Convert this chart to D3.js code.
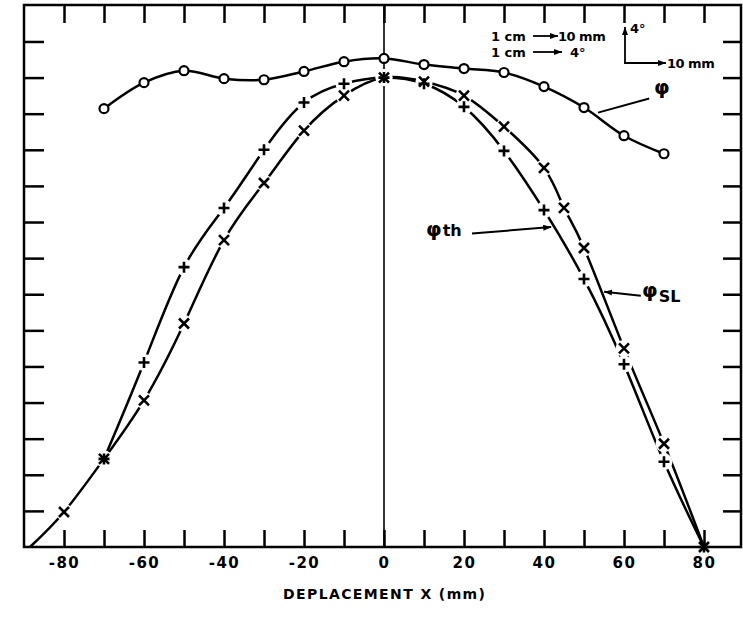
<!DOCTYPE html>
<html>
<head>
<meta charset="utf-8">
<script src="https://cdn.jsdelivr.net/npm/d3@7"></script>
<style>
  body { margin: 0; background: #fff; }
  svg { display: block; }
</style>
</head>
<body>
<div id="chart"></div>
<script>
// DATA
// ================================================================================== //

// axis ticks (x in mm, y in tick units: no labels on the y axis)
const xTicks = [-80, -70, -60, -50, -40, -30, -20, -10, 0, 10, 20, 30, 40, 50, 60, 70, 80];
const xLabels = [-80, -60, -40, -20, 0, 20, 40, 60, 80];
const yTicks = [1, 2, 3, 4, 5, 6, 7, 8, 9, 10, 11, 12, 13, 14];

// phi (open circles)
const phiX = [-70, -60, -50, -40, -30, -20, -10, 0, 10, 20, 30, 40, 50, 60, 70];
const phiY = [12.14, 12.86, 13.19, 12.97, 12.94, 13.17, 13.44, 13.53, 13.36, 13.25, 13.14, 12.75, 12.17, 11.39, 10.89];

// phi th (plus markers)
const phiThX = [-70, -60, -50, -40, -30, -20, -10, 0, 10, 20, 30, 40, 50, 60, 70, 80];
const phiThY = [2.44, 5.11, 7.75, 9.39, 11.0, 12.31, 12.83, 13.0, 12.83, 12.19, 10.97, 9.33, 7.42, 5.06, 2.36, 0];

// phi SL (cross markers), the curve runs on past -80 down to the axis
const phiSlX = [-80, -70, -60, -50, -40, -30, -20, -10, 0, 10, 20, 30, 40, 45, 50, 60, 70, 80];
const phiSlY = [0.97, 2.44, 4.06, 6.19, 8.5, 10.08, 11.53, 12.5, 13.0, 12.89, 12.5, 11.64, 10.5, 9.39, 8.28, 5.5, 2.86, 0];
const phiSlStart = [-88.5, 0];

// ================================================================================== //

const width = 743;
const height = 627;
const margin = { top: 5, right: 2, bottom: 80, left: 24 };
const FONT = "'DejaVu Sans', sans-serif";

const svg = d3.select("#chart")
    .append("svg")
    .attr("width", width)
    .attr("height", height)
    .attr("style", "background-color:white");

const defs = svg.append("defs");
defs.append("marker")
    .attr("id", "arrow")
    .attr("viewBox", "0 0 8 6")
    .attr("refX", 8)
    .attr("refY", 3)
    .attr("markerWidth", 8)
    .attr("markerHeight", 6)
    .attr("markerUnits", "userSpaceOnUse")
    .attr("orient", "auto")
    .append("path")
    .attr("d", "M0,0L8,3L0,6Z")
    .attr("fill", "#000");

const x = d3.scaleLinear()
    .domain([-90, 89.25])
    .range([margin.left, width - margin.right]);

const y = d3.scaleLinear()
    .domain([0, 15.01])
    .range([height - margin.bottom, margin.top]);

const styleTicks = g => {
    g.select(".domain").remove();
    g.selectAll(".tick line").attr("stroke", "#000").attr("stroke-width", 2.5);
};

// Frame and ticks
// ================================================================================= //

svg.append("g")
    .attr("transform", `translate(0,${y(0)})`)
    .call(d3.axisBottom(x)
        .tickValues(xTicks)
        .tickSize(-17)
        .tickPadding(10)
        .tickFormat(d => xLabels.includes(d) ? String(d) : ""))
    .call(styleTicks)
    .call(g => g.selectAll("text")
        .attr("fill", "#000")
        .attr("font-family", FONT)
        .attr("font-weight", "bold")
        .attr("font-size", 15)
        .attr("letter-spacing", 1.5));

svg.append("g")
    .attr("transform", `translate(0,${y.range()[1]})`)
    .call(d3.axisTop(x).tickValues(xTicks).tickSize(-18).tickFormat(""))
    .call(styleTicks);

svg.append("g")
    .attr("transform", `translate(${x.range()[0]},0)`)
    .call(d3.axisLeft(y).tickValues(yTicks).tickSize(-20).tickFormat(""))
    .call(styleTicks);

svg.append("g")
    .attr("transform", `translate(${x.range()[1]},0)`)
    .call(d3.axisRight(y).tickValues(yTicks).tickSize(-18).tickFormat(""))
    .call(styleTicks);

svg.append("rect")
    .attr("x", x.range()[0])
    .attr("y", y.range()[1])
    .attr("width", x.range()[1] - x.range()[0])
    .attr("height", y.range()[0] - y.range()[1])
    .attr("fill", "none")
    .attr("stroke", "#000")
    .attr("stroke-width", 2.5);

// zero line
svg.append("line")
    .attr("x1", x(0)).attr("x2", x(0))
    .attr("y1", y.range()[1]).attr("y2", y(0))
    .attr("stroke", "#000")
    .attr("stroke-width", 1.6);

svg.append("text")
    .attr("x", x(0))
    .attr("y", 599)
    .attr("text-anchor", "middle")
    .attr("font-family", FONT)
    .attr("font-weight", "bold")
    .attr("font-size", 14)
    .attr("textLength", 202)
    .attr("lengthAdjust", "spacing")
    .text("DEPLACEMENT X (mm)");

// Curves
// ================================================================================= //

const line = d3.line()
    .x(d => x(d[0]))
    .y(d => y(d[1]))
    .curve(d3.curveCatmullRom.alpha(0.5));

const smoothLine = d3.line()
    .x(d => x(d[0]))
    .y(d => y(d[1]))
    .curve(d3.curveNatural);

const phiData = d3.zip(phiX, phiY);
const phiThData = d3.zip(phiThX, phiThY);
const phiSlData = d3.zip(phiSlX, phiSlY);

const curves = svg.append("g")
    .attr("fill", "none")
    .attr("stroke", "#000")
    .attr("stroke-width", 2.5);

curves.append("path").attr("d", line(phiData));
curves.append("path").attr("d", smoothLine(phiThData));
curves.append("path").attr("d", smoothLine([phiSlStart, ...phiSlData]));

// white gaps around the hand drawn markers
svg.append("g")
    .selectAll("circle")
    .data([...phiThData, ...phiSlData].filter(d => d[1] > 0.3))
    .join("circle")
    .attr("cx", d => x(d[0]))
    .attr("cy", d => y(d[1]))
    .attr("r", 8.5)
    .attr("fill", "#fff");

svg.append("g")
    .selectAll("path")
    .data(phiThData)
    .join("path")
    .attr("transform", d => `translate(${x(d[0])},${y(d[1])})`)
    .attr("d", "M-5.5,0H5.5M0,-5.5V5.5")
    .attr("stroke", "#000")
    .attr("stroke-width", 2.6);

svg.append("g")
    .selectAll("path")
    .data(phiSlData)
    .join("path")
    .attr("transform", d => `translate(${x(d[0])},${y(d[1])})`)
    .attr("d", "M-5,-5L5,5M-5,5L5,-5")
    .attr("stroke", "#000")
    .attr("stroke-width", 2.6);

svg.append("g")
    .selectAll("circle")
    .data(phiData)
    .join("circle")
    .attr("cx", d => x(d[0]))
    .attr("cy", d => y(d[1]))
    .attr("r", 4.5)
    .attr("fill", "#fff")
    .attr("stroke", "#000")
    .attr("stroke-width", 2.2);

// Curve labels with leader lines (positions in data units)
// ================================================================================= //

const leader = (from, to, arrow) => {
    svg.append("line")
        .attr("x1", x(from[0])).attr("y1", y(from[1]))
        .attr("x2", x(to[0])).attr("y2", y(to[1]))
        .attr("stroke", "#000")
        .attr("stroke-width", 2)
        .attr("marker-end", arrow ? "url(#arrow)" : null);
};

const label = (pos, main, sub, subShift) => {
    const t = svg.append("text")
        .attr("x", x(pos[0]))
        .attr("y", y(pos[1]))
        .attr("font-family", FONT)
        .attr("font-weight", "bold")
        .attr("font-size", 20)
        .text(main);
    if (sub) {
        t.append("tspan")
            .attr("dy", subShift)
            .attr("dx", 1)
            .attr("font-size", 16)
            .text(sub);
    }
};

label([67.5, 12.55], "φ");
leader([66.3, 12.42], [53.5, 12.03], false);

label([10.5, 8.6], "φ", "th", 0);
leader([22, 8.68], [41.8, 8.86], true);

label([64.5, 6.92], "φ", "SL", 5);
leader([64.2, 6.96], [55, 7.07], true);

// Scale legend (top right)
// ================================================================================= //

const legend = svg.append("g")
    .attr("font-family", FONT)
    .attr("font-weight", "bold")
    .attr("font-size", 13);

const arrowLine = (x1, y1, x2, y2) => legend.append("line")
    .attr("x1", x1).attr("y1", y1).attr("x2", x2).attr("y2", y2)
    .attr("stroke", "#000")
    .attr("stroke-width", 1.8)
    .attr("marker-end", "url(#arrow)");

legend.append("text").attr("x", 491).attr("y", 41).text("1 cm");
arrowLine(533, 36, 558, 36);
legend.append("text").attr("x", 558).attr("y", 41).attr("letter-spacing", -0.5).text("10 mm");

legend.append("text").attr("x", 491).attr("y", 57).text("1 cm");
arrowLine(533, 52, 562, 52);
legend.append("text").attr("x", 570).attr("y", 57).text("4°");

arrowLine(625, 64, 625, 27);
arrowLine(624, 63, 666, 63);
legend.append("text").attr("x", 630).attr("y", 33).text("4°");
legend.append("text").attr("x", 667).attr("y", 68).attr("letter-spacing", -0.5).text("10 mm");
</script>
</body>
</html>
